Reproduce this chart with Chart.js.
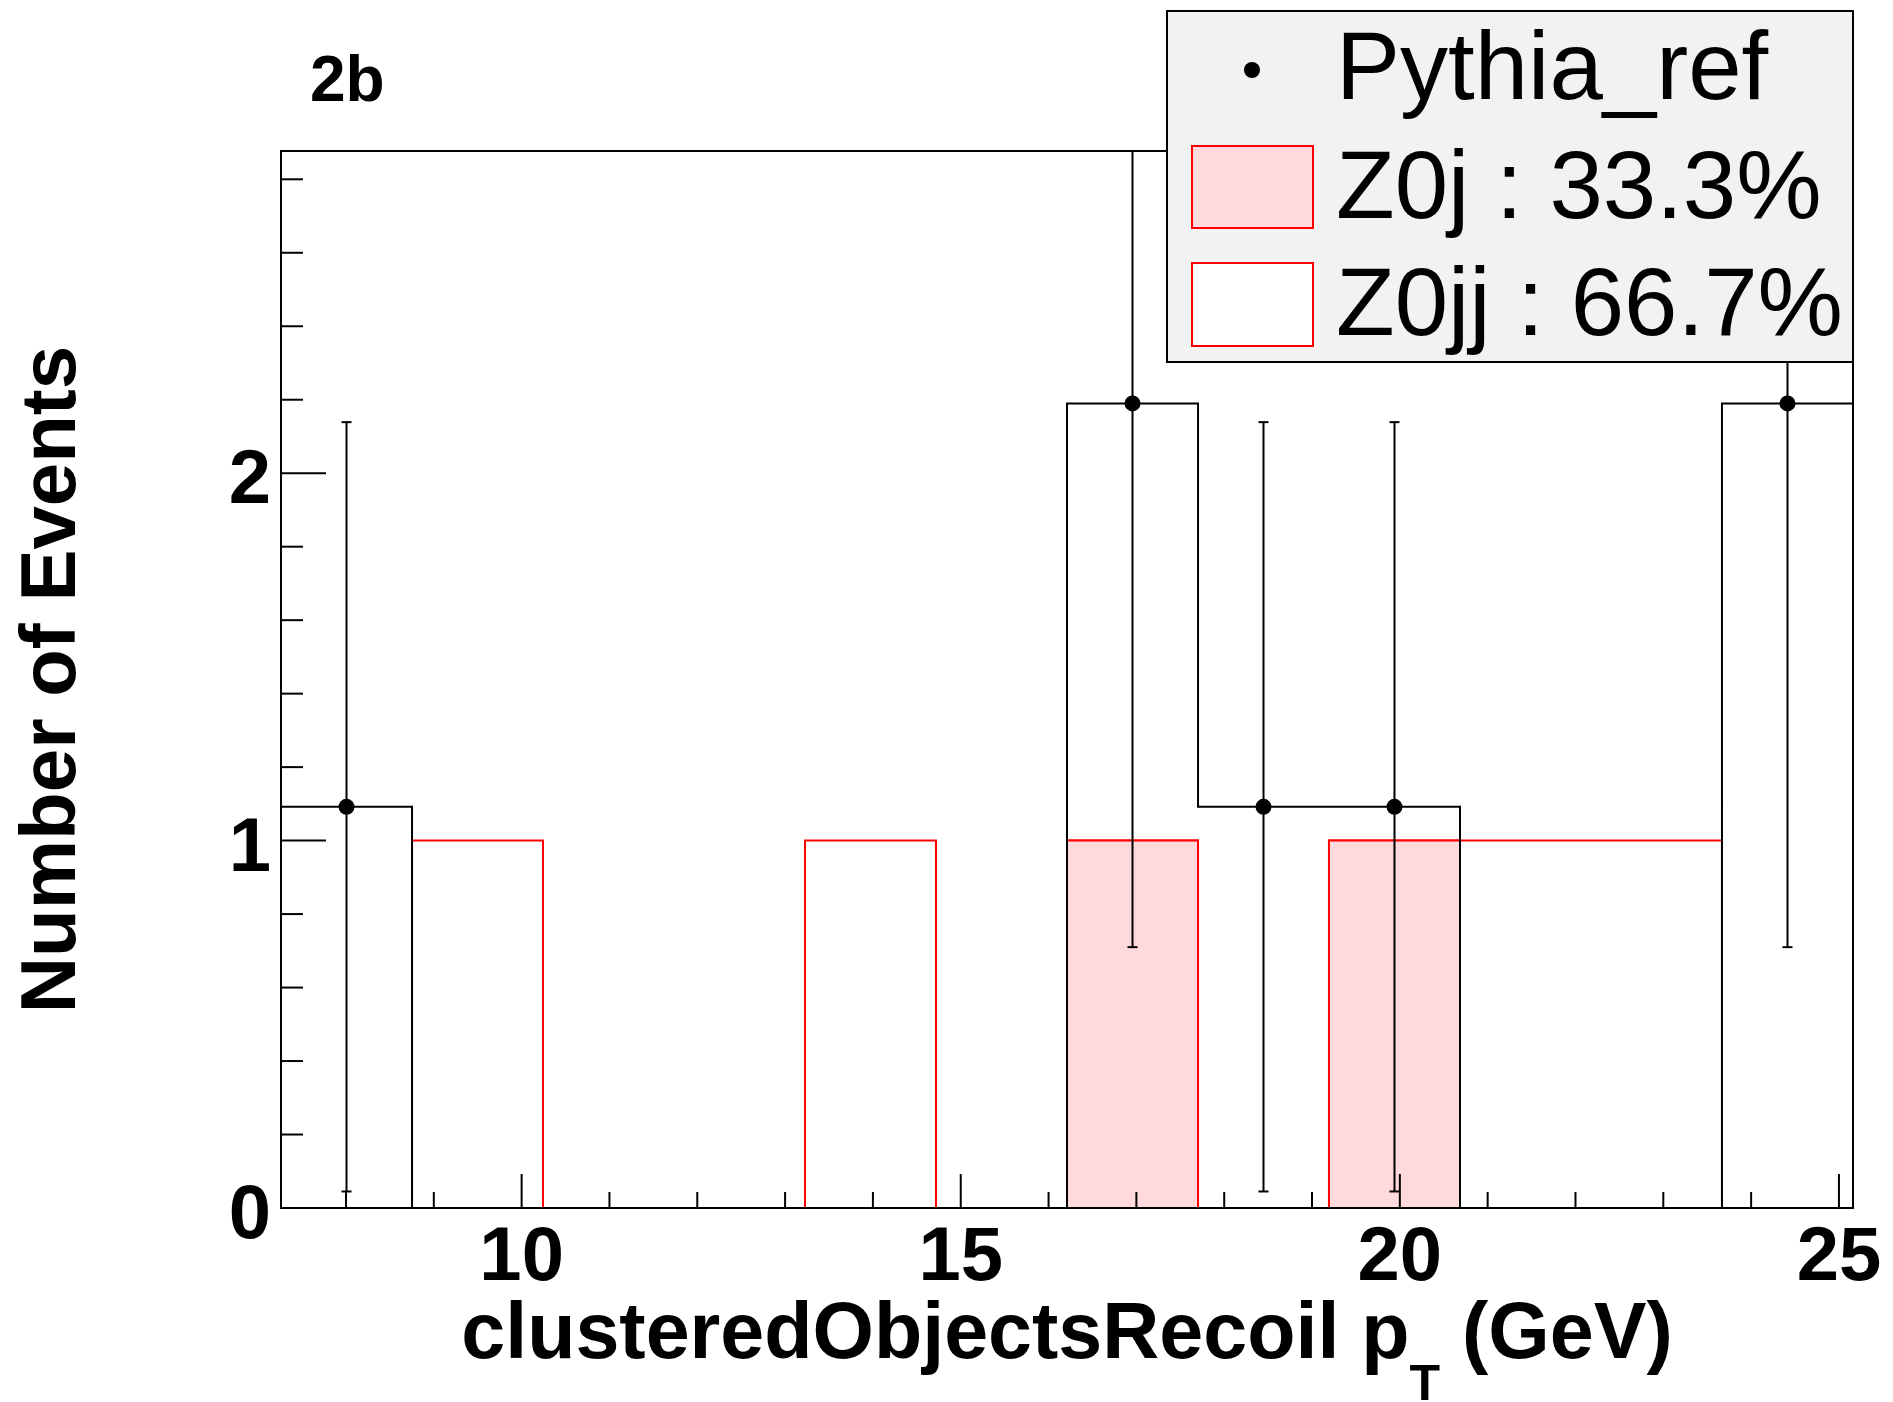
<!DOCTYPE html>
<html>
<head>
<meta charset="utf-8">
<script src="https://cdn.jsdelivr.net/npm/chart.js@4.4.1/dist/chart.umd.min.js"></script>
<style>
  html, body { margin: 0; padding: 0; background: #fff; }
  canvas { display: block; }
</style>
</head>
<body>
<canvas id="c" width="1893" height="1402"></canvas>
<script>
// bin edges of the histogram (GeV)
var binEdges = [7.26, 8.752, 10.243, 11.735, 13.227, 14.718, 16.21, 17.702, 19.193, 20.685, 22.177, 23.668, 25.16];
// contents per bin
var pythiaRef = [1.092, 0, 0, 0, 0, 0, 2.19, 1.092, 1.092, 0, 0, 2.19];
var pythiaErr = [1.047, 0, 0, 0, 0, 0, 1.48, 1.047, 1.047, 0, 0, 1.48];
var z0j = [0, 0, 0, 0, 0, 0, 1, 0, 1, 0, 0, 0];
var z0jj = [0, 1, 0, 0, 1, 0, 0, 0, 0, 1, 1, 0];

var xTicks = [10, 15, 20, 25];
var yTicks = [0, 1, 2];
var yMax = 2.877;
var legendLabels = ['Pythia_ref', 'Z0j : 33.3%', 'Z0jj : 66.7%'];

var pink = '#ffd9db';
var red = '#ff0000';

// stacked top (Z0j + Z0jj) like THStack
var stackSum = z0j.map(function (v, i) { return v + z0jj[i]; });

// turn bin contents into stepped line points
function stepPoints(vals) {
    var pts = [{ x: binEdges[0], y: 0 }];
    vals.forEach(function (v, i) { pts.push({ x: binEdges[i], y: v }); });
    pts.push({ x: binEdges[binEdges.length - 1], y: vals[vals.length - 1] });
    pts.push({ x: binEdges[binEdges.length - 1], y: 0 });
    return pts;
}

var markerPts = [];
pythiaRef.forEach(function (v, i) {
    if (v > 0) markerPts.push({ x: (binEdges[i] + binEdges[i + 1]) / 2, y: v });
});

var boldFont = '"Liberation Sans", Arial, Helvetica, sans-serif';

var rootPlugin = {
    id: 'rootStyle',
    beforeDatasetDraw: function (chart, args) {
        if (args.index !== 0) return;
        var ctx = chart.ctx, a = chart.chartArea, x = chart.scales.x, y = chart.scales.y;
        ctx.save();
        ctx.beginPath();
        ctx.rect(a.left, a.top, a.right - a.left, a.bottom - a.top);
        ctx.clip();
        ctx.strokeStyle = '#000';
        ctx.lineWidth = 2;
        pythiaRef.forEach(function (v, i) {
            if (!v) return;
            var px = x.getPixelForValue((binEdges[i] + binEdges[i + 1]) / 2);
            var yTop = y.getPixelForValue(v + pythiaErr[i]);
            var yBot = y.getPixelForValue(v - pythiaErr[i]);
            ctx.beginPath();
            ctx.moveTo(px, yTop);
            ctx.lineTo(px, yBot);
            ctx.stroke();
            [yTop, yBot].forEach(function (py) {
                if (py > a.top && py < a.bottom) {
                    ctx.beginPath();
                    ctx.moveTo(px - 5, py);
                    ctx.lineTo(px + 5, py);
                    ctx.stroke();
                }
            });
        });
        ctx.restore();
    },
    afterDatasetsDraw: function (chart) {
        var ctx = chart.ctx, a = chart.chartArea, x = chart.scales.x, y = chart.scales.y;
        ctx.save();
        ctx.strokeStyle = '#000';
        ctx.lineWidth = 2;
        // y ticks, inward, minor every 0.2
        for (var k = 1; k * 0.2 <= yMax; k++) {
            var py = y.getPixelForValue(k * 0.2);
            var len = (k % 5 === 0) ? 45 : 22;
            ctx.beginPath();
            ctx.moveTo(a.left, py);
            ctx.lineTo(a.left + len, py);
            ctx.stroke();
        }
        // x ticks, minor every 1
        for (var t = Math.ceil(binEdges[0]); t <= binEdges[binEdges.length - 1]; t++) {
            var px = x.getPixelForValue(t);
            var l = (xTicks.indexOf(t) >= 0) ? 34 : 16;
            ctx.beginPath();
            ctx.moveTo(px, a.bottom);
            ctx.lineTo(px, a.bottom - l);
            ctx.stroke();
        }
        ctx.strokeRect(a.left, a.top, a.right - a.left, a.bottom - a.top);
        ctx.restore();
    },
    afterDraw: function (chart) {
        var ctx = chart.ctx, a = chart.chartArea;
        ctx.save();

        // legend box
        ctx.fillStyle = '#f2f2f2';
        ctx.fillRect(1167, 11, 686, 351);
        ctx.strokeStyle = '#000';
        ctx.lineWidth = 2;
        ctx.strokeRect(1167, 11, 686, 351);

        ctx.fillStyle = '#000';
        ctx.beginPath();
        ctx.arc(1252, 70, 8, 0, Math.PI * 2);
        ctx.fill();

        ctx.fillStyle = pink;
        ctx.fillRect(1192, 146, 121, 82);
        ctx.strokeStyle = red;
        ctx.strokeRect(1192, 146, 121, 82);
        ctx.fillStyle = '#fff';
        ctx.fillRect(1192, 263, 121, 83);
        ctx.strokeRect(1192, 263, 121, 83);

        ctx.fillStyle = '#000';
        ctx.font = '96px ' + boldFont;
        ctx.textAlign = 'left';
        ctx.textBaseline = 'alphabetic';
        var baselines = [99, 218, 335];
        legendLabels.forEach(function (s, i) { ctx.fillText(s, 1336, baselines[i]); });

        // pad title
        ctx.font = 'bold 64px ' + boldFont;
        ctx.fillText('2b', 310, 101);

        // y axis title
        ctx.save();
        ctx.translate(75, (a.top + a.bottom) / 2);
        ctx.rotate(-Math.PI / 2);
        ctx.font = 'bold 78px ' + boldFont;
        ctx.textAlign = 'center';
        ctx.fillText('Number of Events', 0, 0);
        ctx.restore();

        // x axis title with subscript
        var p1 = 'clusteredObjectsRecoil p', sub = 'T', p2 = ' (GeV)';
        ctx.font = 'bold 79px ' + boldFont;
        var w1 = ctx.measureText(p1).width, w3 = ctx.measureText(p2).width;
        ctx.font = 'bold 50px ' + boldFont;
        var w2 = ctx.measureText(sub).width;
        var start = (a.left + a.right) / 2 - (w1 + w2 + w3) / 2;
        ctx.font = 'bold 79px ' + boldFont;
        ctx.fillText(p1, start, 1358);
        ctx.fillText(p2, start + w1 + w2, 1358);
        ctx.font = 'bold 50px ' + boldFont;
        ctx.fillText(sub, start + w1, 1400);

        ctx.restore();
    }
};

var tickFont = { family: boldFont, size: 76, weight: 'bold', lineHeight: 1.2 };

new Chart(document.getElementById('c').getContext('2d'), {
    type: 'line',
    data: {
        datasets: [
            {
                label: 'Pythia_ref',
                data: markerPts,
                showLine: false,
                pointRadius: 8,
                pointBackgroundColor: '#000',
                pointBorderWidth: 0
            },
            {
                label: 'Pythia_ref hist',
                data: stepPoints(pythiaRef),
                stepped: 'before',
                borderColor: '#000',
                borderWidth: 2,
                pointRadius: 0,
                fill: false
            },
            {
                label: 'Z0j',
                data: stepPoints(z0j),
                stepped: 'before',
                borderColor: red,
                backgroundColor: pink,
                borderWidth: 2,
                pointRadius: 0,
                fill: 'origin'
            },
            {
                label: 'Z0jj',
                data: stepPoints(stackSum),
                stepped: 'before',
                borderColor: red,
                backgroundColor: '#ffffff',
                borderWidth: 2,
                pointRadius: 0,
                fill: 'origin'
            }
        ]
    },
    options: {
        responsive: false,
        animation: false,
        devicePixelRatio: 1,
        layout: { padding: { top: 151, right: 40, left: 0, bottom: 0 } },
        plugins: { legend: { display: false }, tooltip: { enabled: false } },
        scales: {
            x: {
                type: 'linear',
                min: binEdges[0],
                max: binEdges[binEdges.length - 1],
                grid: { display: false, drawTicks: false },
                border: { display: false },
                afterBuildTicks: function (s) { s.ticks = xTicks.map(function (v) { return { value: v }; }); },
                afterFit: function (s) { s.height = 194; s.paddingLeft = 0; s.paddingRight = 0; },
                ticks: {
                    font: tickFont, color: '#000', padding: 5, maxRotation: 0, autoSkip: false,
                    callback: function (v) { return String(v); }
                }
            },
            y: {
                type: 'linear',
                min: 0,
                max: yMax,
                grid: { display: false, drawTicks: false },
                border: { display: false },
                afterBuildTicks: function (s) { s.ticks = yTicks.map(function (v) { return { value: v }; }); },
                afterFit: function (s) { s.width = 281; s.paddingTop = 0; s.paddingBottom = 0; },
                ticks: {
                    font: tickFont, color: '#000', padding: 10, labelOffset: 9, autoSkip: false,
                    callback: function (v) { return String(v); }
                }
            }
        }
    },
    plugins: [rootPlugin]
});
</script>
</body>
</html>
